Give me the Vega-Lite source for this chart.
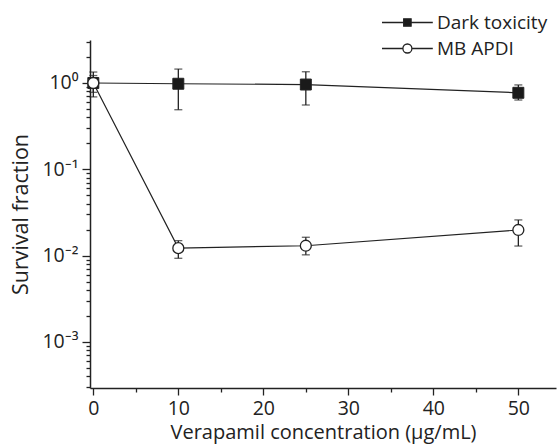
{
  "$schema": "https://vega.github.io/schema/vega-lite/v6.json",
  "width": 466,
  "height": 348,
  "autosize": "none",
  "padding": {"left": 90, "top": 40, "right": 2, "bottom": 56},
  "background": "white",
  "config": {
    "view": {"stroke": null},
    "font": "Open Sans",
    "axis": {"grid": false, "domainColor": "#222", "tickColor": "#222", "labelColor": "#222", "titleColor": "#222", "labelFont": "Open Sans", "titleFont": "Open Sans", "titleFontWeight": "normal", "labelFontSize": 19.5, "titleFontSize": 20, "domainWidth": 1.5, "tickWidth": 1.3}
  },
  "data": {
    "values": [
      {"series": "Dark toxicity", "conc": 0, "sf": 1.0, "lo": 0.69, "hi": 1.34},
      {"series": "Dark toxicity", "conc": 10, "sf": 0.98, "lo": 0.49, "hi": 1.45},
      {"series": "Dark toxicity", "conc": 25, "sf": 0.96, "lo": 0.556, "hi": 1.35},
      {"series": "Dark toxicity", "conc": 50, "sf": 0.77, "lo": 0.635, "hi": 0.95},
      {"series": "MB APDI", "conc": 0, "sf": 1.0, "lo": 0.78, "hi": 1.22},
      {"series": "MB APDI", "conc": 10, "sf": 0.0122, "lo": 0.0093, "hi": 0.0149},
      {"series": "MB APDI", "conc": 25, "sf": 0.013, "lo": 0.0102, "hi": 0.0163},
      {"series": "MB APDI", "conc": 50, "sf": 0.0198, "lo": 0.0129, "hi": 0.0259}
    ]
  },
  "encoding": {
    "x": {
      "field": "conc", "type": "quantitative",
      "scale": {"domain": [-0.39, 54.43], "nice": false, "zero": false},
      "axis": {
        "title": "Verapamil concentration (μg/mL)",
        "values": [0, 5, 10, 15, 20, 25, 30, 35, 40, 45, 50],
        "labelExpr": "datum.value % 10 == 0 ? datum.label : ''",
        "tickSize": {"condition": {"test": "datum.value % 10 == 0", "value": 7}, "value": 4},
        "labelPadding": 4,
        "labelFlush": false,
        "labelOverlap": false,
        "titlePadding": 5
      }
    },
    "y": {
      "field": "sf", "type": "quantitative",
      "scale": {"type": "log", "domain": [0.000292, 3.15], "nice": false},
      "axis": {
        "title": "Survival fraction",
        "titleFontSize": 21.5,
        "values": [0.0003, 0.0004, 0.0005, 0.0006, 0.0007, 0.0008, 0.0009, 0.001, 0.002, 0.003, 0.004, 0.005, 0.006, 0.007, 0.008, 0.009, 0.01, 0.02, 0.03, 0.04, 0.05, 0.06, 0.07, 0.08, 0.09, 0.1, 0.2, 0.3, 0.4, 0.5, 0.6, 0.7, 0.8, 0.9, 1, 2, 3],
        "labelExpr": "abs(log(datum.value)/LN10 - round(log(datum.value)/LN10)) < 0.001 ? '10' + ['⁻³','⁻²','⁻¹','⁰'][round(log(datum.value)/LN10) + 3] : ''",
        "tickSize": {"condition": {"test": "abs(log(datum.value)/LN10 - round(log(datum.value)/LN10)) < 0.001", "value": 8}, "value": 4},
        "labelOverlap": false,
        "labelPadding": 4,
        "titlePadding": 9
      }
    }
  },
  "layer": [
    {
      "mark": {"type": "line", "color": "#222", "strokeWidth": 1.2},
      "encoding": {"detail": {"field": "series"}}
    },
    {
      "mark": {"type": "rule", "color": "#222", "strokeWidth": 1.3},
      "encoding": {"y": {"field": "lo", "type": "quantitative"}, "y2": {"field": "hi"}}
    },
    {
      "mark": {"type": "tick", "orient": "horizontal", "color": "#222", "size": 8, "thickness": 1.3},
      "encoding": {"y": {"field": "lo", "type": "quantitative"}}
    },
    {
      "mark": {"type": "tick", "orient": "horizontal", "color": "#222", "size": 8, "thickness": 1.3},
      "encoding": {"y": {"field": "hi", "type": "quantitative"}}
    },
    {
      "transform": [{"filter": "datum.series == 'Dark toxicity'"}],
      "mark": {"type": "point", "shape": "square", "filled": true, "fill": "#1a1a1a", "stroke": "#222", "strokeWidth": 1, "size": 120, "opacity": 1}
    },
    {
      "transform": [{"filter": "datum.series == 'MB APDI'"}],
      "mark": {"type": "point", "shape": "circle", "filled": true, "fill": "white", "stroke": "#222", "strokeWidth": 1.3, "size": 120, "opacity": 1}
    },
    {
      "mark": {"type": "point", "opacity": 0, "size": 400, "strokeWidth": 1.3},
      "encoding": {
        "shape": {
          "field": "series", "type": "nominal",
          "scale": {"domain": ["Dark toxicity", "MB APDI"], "range": ["M-2.54,0H-0.37M0.37,0H2.54M-0.37,-0.37H0.37V0.37H-0.37Z", "M-2.54,0H-0.45M0.45,0H2.54M-0.45,0A0.45,0.45,0,1,0,0.45,0A0.45,0.45,0,1,0,-0.45,0Z"]},
          "legend": {
            "title": null, "orient": "none", "legendX": 306.4, "legendY": -28.5, "padding": 0,
            "symbolOpacity": 1, "symbolStrokeColor": "#222", "symbolStrokeWidth": 1.3,
            "symbolSize": 400, "labelFontSize": 19, "labelFont": "Open Sans", "labelColor": "#222",
            "labelOffset": 18.6, "rowPadding": 5
          }
        },
        "fill": {
          "field": "series", "type": "nominal",
          "scale": {"domain": ["Dark toxicity", "MB APDI"], "range": ["#1a1a1a", "white"]},
          "legend": {
            "title": null, "orient": "none", "legendX": 306.4, "legendY": -28.5, "padding": 0,
            "symbolOpacity": 1, "symbolStrokeColor": "#222", "symbolStrokeWidth": 1.3,
            "symbolSize": 400, "labelFontSize": 19, "labelFont": "Open Sans", "labelColor": "#222",
            "labelOffset": 18.6, "rowPadding": 5
          }
        },
        "stroke": {
          "field": "series", "type": "nominal",
          "scale": {"domain": ["Dark toxicity", "MB APDI"], "range": ["#222", "#222"]},
          "legend": {
            "title": null, "orient": "none", "legendX": 306.4, "legendY": -28.5, "padding": 0,
            "symbolOpacity": 1, "symbolStrokeWidth": 1.3,
            "symbolSize": 400, "labelFontSize": 19, "labelFont": "Open Sans", "labelColor": "#222",
            "labelOffset": 18.6, "rowPadding": 5
          }
        }
      }
    }
  ],
  "resolve": {"scale": {"shape": "independent", "fill": "independent", "stroke": "independent"}}
}
